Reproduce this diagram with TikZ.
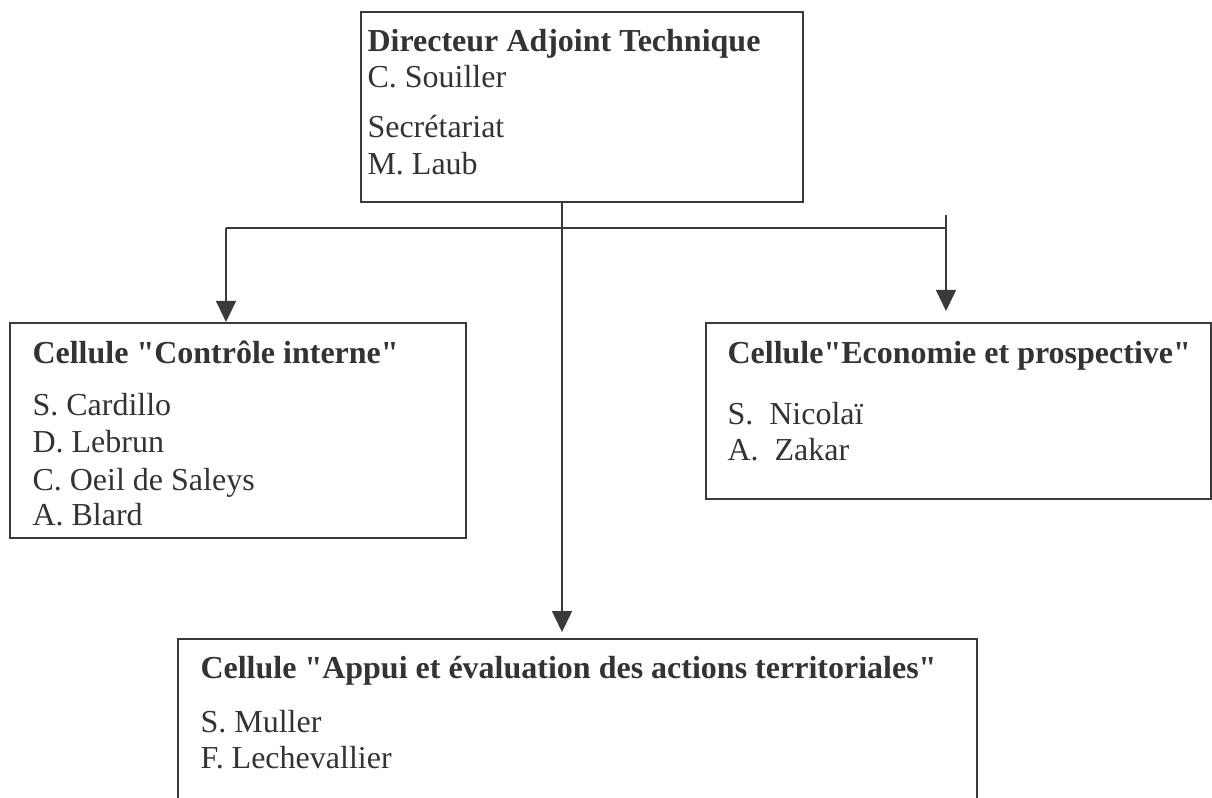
\documentclass[tikz,border=0pt]{standalone}
\usepackage{fontspec}
\setmainfont{Liberation Serif}[Ligatures=TeXOff]
\usepackage{tikz}
\usetikzlibrary{positioning,arrows.meta,fit}
\definecolor{inkGrey}{HTML}{3A3A3C}
\definecolor{textGrey}{HTML}{333333}

\begin{document}
\begin{tikzpicture}[x=0.375pt, y=-0.375pt,
  cellbox/.style={draw=inkGrey, line width=0.8pt, inner sep=0pt},
  headtxt/.style={anchor=base west, inner sep=0pt, text=textGrey, font=\fontsize{12}{13.8}\selectfont\bfseries},
  nametxt/.style={anchor=base west, inner sep=0pt, text=textGrey, font=\fontsize{12}{13.8}\selectfont},
  link/.style={draw=inkGrey, line width=0.6pt},
  arr/.style={link, -{Triangle[length=7.9pt, width=7.5pt]}}]
  \useasboundingbox (0,0) rectangle (1212,798);
  \clip (0,0) rectangle (1212,798);

  % boxes
  \node[cellbox, fit={(361,12) (803,202)}] (dat) {};
  \node[cellbox, fit={(10,323) (466,538)}] (ci) {};
  \node[cellbox, fit={(706,323) (1211,499)}] (eco) {};
  \node[cellbox, fit={(178,639) (977,840)}] (appui) {};

  % texts
  \node[headtxt] (datHead) at (367,52) {Directeur Adjoint Technique};
  \node[nametxt] (datName) at (367,88) {C. Souiller};
  \node[nametxt] (secHead) at (367,138) {Secrétariat};
  \node[nametxt] (secName) at (367,175) {M. Laub};

  \node[headtxt] (ciHead) at (32,363) {Cellule "Contrôle interne"};
  \node[nametxt] (ciN1) at (32,415) {S. Cardillo};
  \node[nametxt] (ciN2) at (32,452) {D. Lebrun};
  \node[nametxt] (ciN3) at (32,490) {C. Oeil de Saleys};
  \node[nametxt] (ciN4) at (32,525) {A. Blard};

  \node[headtxt] (ecoHead) at (727,363) {Cellule"Economie et prospective"};
  \node[nametxt] (ecoN1) at (727,424) {S.\ \ Nicolaï};
  \node[nametxt] (ecoN2) at (727,460) {A.\ \ Zakar};

  \node[headtxt] (appuiHead) at (200,678) {Cellule "Appui et évaluation des actions territoriales"};
  \node[nametxt] (appuiN1) at (200,732) {S. Muller};
  \node[nametxt] (appuiN2) at (200,768) {F. Lechevallier};

  % connectors
  \coordinate (mid) at (562,228);
  \coordinate (hL) at (226,228);
  \coordinate (hR) at (946,228);
  \coordinate (stub) at (946,215);

  \draw[arr, shorten >=2.2pt] (dat.south -| mid) -- (appui.north -| mid);
  \draw[link] (hL) -- (hR);
  \draw[arr] (hL) -- (ci.north -| hL);
  \draw[arr, shorten >=4.1pt] (stub) -- (eco.north -| stub);
\end{tikzpicture}
\end{document}
